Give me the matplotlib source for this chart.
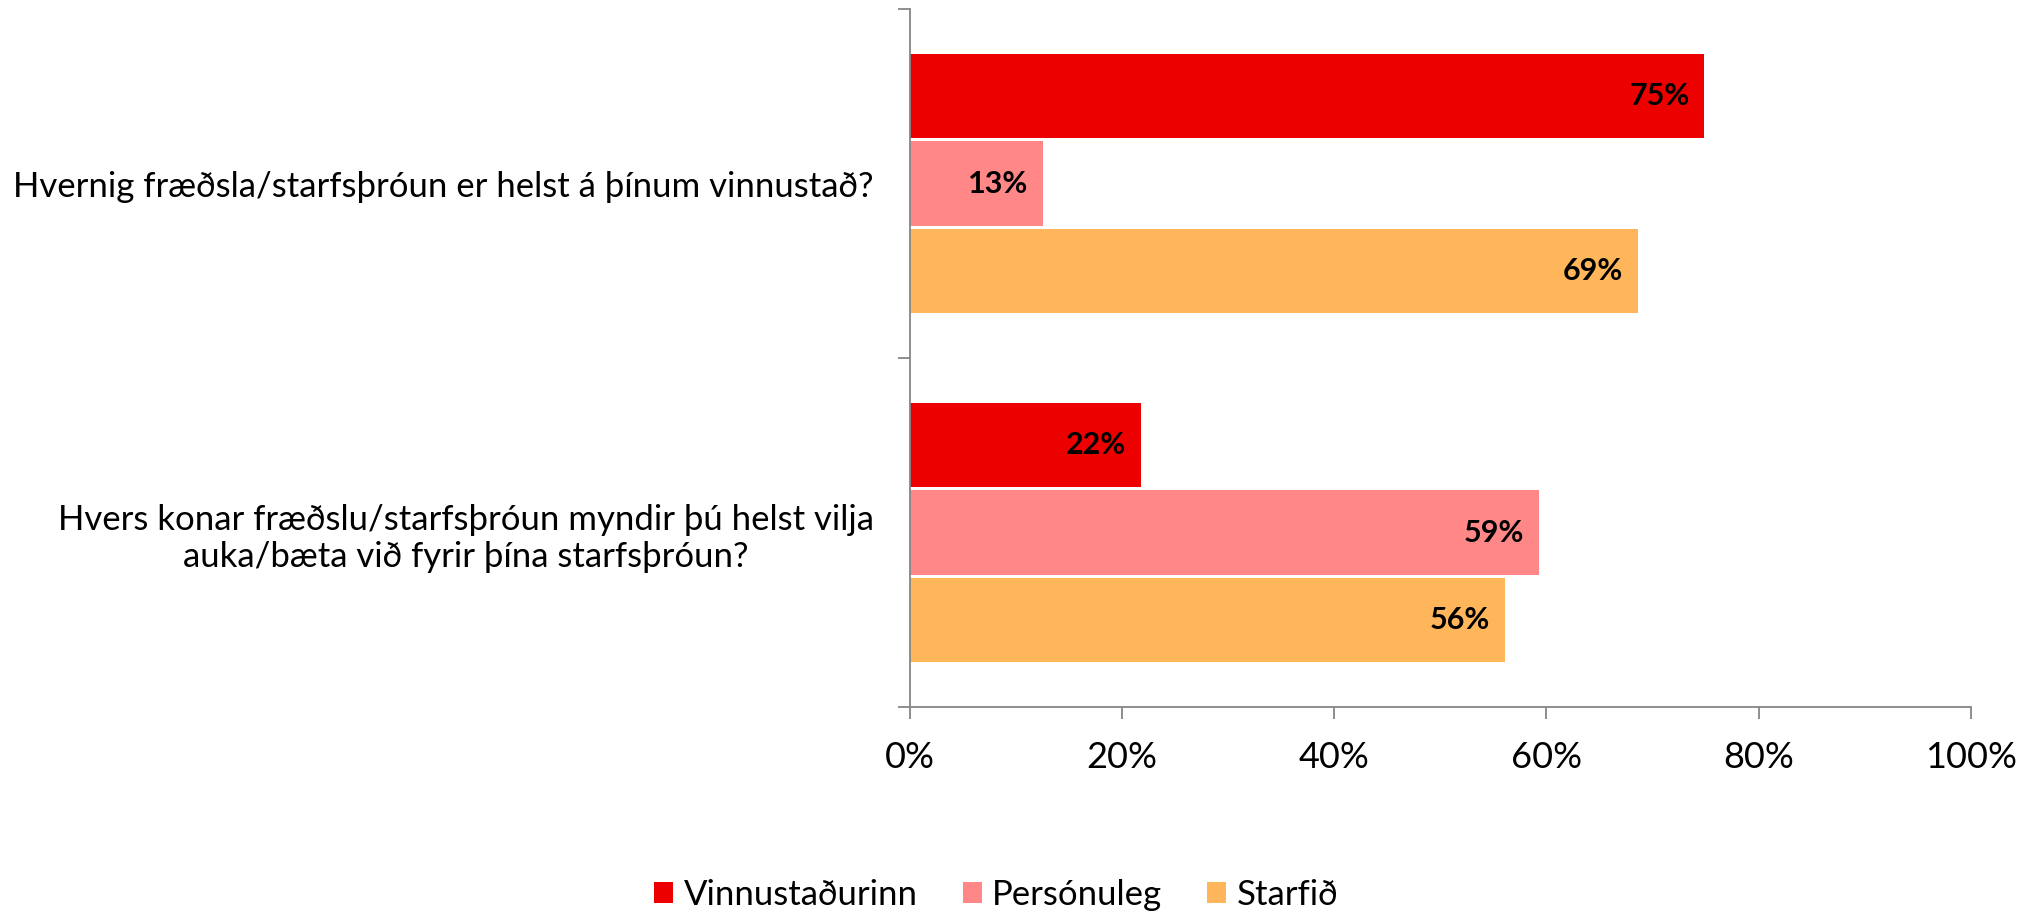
import matplotlib.pyplot as plt
import numpy as np

plt.rcParams['font.family'] = ['Lato', 'DejaVu Sans']

questions = ['Hvernig fræðsla/starfsþróun er helst á þínum vinnustað?',
             'Hvers konar fræðslu/starfsþróun myndir þú helst vilja\nauka/bæta við fyrir þína starfsþróun?']
series = ['Vinnustaðurinn', 'Persónuleg', 'Starfið']
vinnustadurinn = [74.9, 21.8]
personuleg = [12.55, 59.3]
starfid = [68.6, 56.1]
colors = ['#EC0000', '#FF8787', '#FFB65A']

fig = plt.figure(figsize=(20.33, 9.13), dpi=100)
ax = fig.add_axes([910 / 2033, 1 - 707 / 913, 1060.7 / 2033, 698 / 913])

y = np.arange(len(questions))
for i, (name, vals) in enumerate(zip(series, [vinnustadurinn, personuleg, starfid])):
    pos = y + (i - 1) * 0.25
    ax.barh(pos, vals, height=0.242, color=colors[i], label=name)
    for p, v in zip(pos, vals):
        ax.text(v - 1.4, p, f'{round(v + 0.01):.0f}%', ha='right', va='center',
                fontsize=22, fontweight='bold', color='black')

ax.set_xlim(0, 100)
ax.set_ylim(1.5, -0.5)
ax.set_xticks(np.arange(0, 101, 20))
ax.set_xticklabels([f'{t}%' for t in range(0, 101, 20)], fontsize=26)
ax.set_yticks([-0.5, 0.5, 1.5])
ax.set_yticklabels([])
ax.set_yticks(y, minor=True)
ax.set_yticklabels(questions, minor=True, fontsize=25, multialignment='center')
ax.tick_params(axis='y', which='minor', length=0, pad=26)
ax.tick_params(axis='both', which='major', length=8.5, width=1.3, color='#868686')
ax.tick_params(axis='x', which='major', pad=16)

for s in ['top', 'right']:
    ax.spines[s].set_visible(False)
for s in ['left', 'bottom']:
    ax.spines[s].set_color('#868686')
    ax.spines[s].set_linewidth(1.3)

fig.legend(loc='center', bbox_to_anchor=(0.49, 0.02), ncol=3, frameon=False,
           fontsize=25, handlelength=0.55, handleheight=0.55, handletextpad=0.3,
           columnspacing=1.3)

fig.savefig('out.png', dpi=100)
